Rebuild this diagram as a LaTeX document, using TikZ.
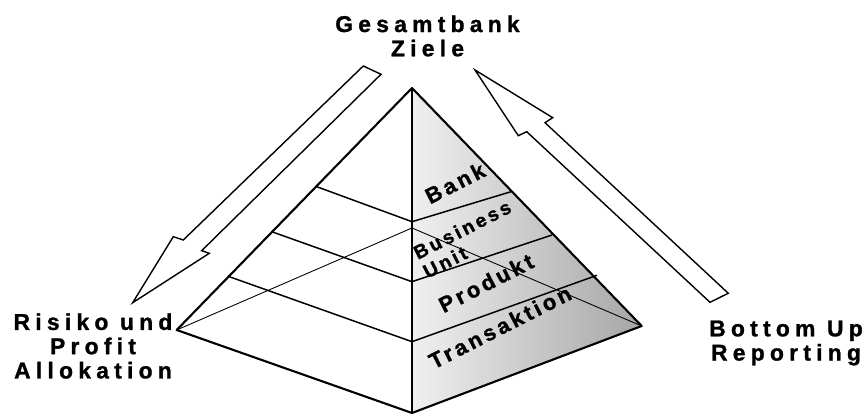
\documentclass[tikz,border=0pt]{standalone}
\usepackage{fontspec}
\newfontfamily\outerfont[LetterSpace=23, FakeBold=1.2]{Liberation Sans Bold}
\newfontfamily\facefont[LetterSpace=15, FakeBold=1.2]{Liberation Sans Bold}
\tikzset{
  edge/.style={line width=1.2pt, line join=round},
  level/.style={line width=0.85pt},
  hidden/.style={line width=0.5pt},
  bigarrow/.style={line width=0.8pt, fill=white, line join=miter},
  outerlbl/.style={font=\outerfont\fontsize{13}{13.8}\selectfont, align=center},
  facelbl/.style={font=\facefont\fontsize{12.5}{12.5}\selectfont, rotate=27, inner sep=0pt},
}
\begin{document}
\begin{tikzpicture}[x=2cm, y=2cm]
    \useasboundingbox (0,0) rectangle (8.67,4.16);
    % Corners of the pyramid
    \coordinate (apex) at (4.12,3.28);
    \coordinate (front) at (4.12,0.03);
    \coordinate (left) at (1.767,0.86);
    \coordinate (right) at (6.417,0.90);
    \coordinate (back) at (4.12,1.88);
    % Shaded face
    \shade[left color=gray!12, right color=gray!70] (apex) -- (right) -- (front) -- cycle;
    \draw[hidden] (left) -- (back) -- (right);
    % Levels
    \draw[level] (3.167,2.293) -- (4.12,1.943) -- (5.11,2.243);
    \draw[level] (2.717,1.843) -- (4.12,1.343) -- (5.52,1.81);
    \draw[level] (2.293,1.393) -- (4.12,0.743) -- (5.97,1.407);
    \draw[edge] (left) -- (apex) -- (right) -- (front) -- cycle;
    \draw[edge] (apex) -- (front);
    % Arrows
    \draw[bigarrow] (3.633,3.50) -- (1.833,1.76) -- (1.733,1.793) -- (1.327,1.133) -- (2.093,1.627) -- (2.017,1.653) -- (3.81,3.417) -- cycle;
    \draw[bigarrow] (4.75,3.46) -- (5.527,2.983) -- (5.45,2.933) -- (7.283,1.227) -- (7.10,1.137) -- (5.267,2.843) -- (5.183,2.803) -- cycle;
    % Labels
    \node[outerlbl] (goal) at (4.275,3.80) {Gesamtbank\\Ziele};
    \node[outerlbl] (alloc) at (0.93,0.70) {Risiko und\\Profit\\Allokation};
    \node[outerlbl] (report) at (7.86,0.73) {Bottom Up\\Reporting};
    \node[facelbl] (bank) at (4.55,2.33) {Bank};
    \node[facelbl, align=left, font=\facefont\fontsize{11}{12}\selectfont] (unit) at (4.67,1.77) {Business\\Unit};
    \node[facelbl] (prod) at (4.86,1.33) {Produkt};
    \node[facelbl] (trans) at (5.0,0.89) {Transaktion};
\end{tikzpicture}
\end{document}
